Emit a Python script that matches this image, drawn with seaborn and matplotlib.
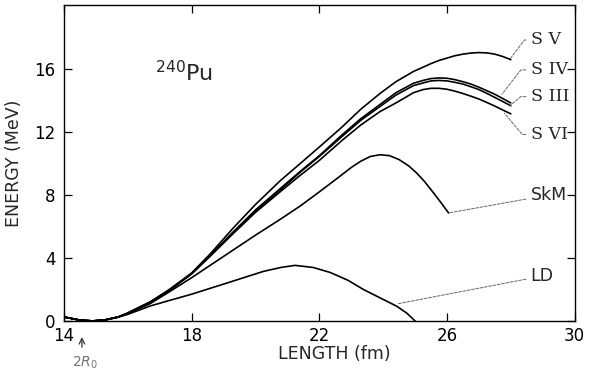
import numpy as np
import pandas as pd
import matplotlib
matplotlib.use('Agg')
import matplotlib.pyplot as plt
import seaborn as sns

# values (length in fm, energy in MeV)
L_s = [14.0, 14.5, 14.9, 15.3, 15.7, 16.0, 16.7, 17.3, 18.0, 18.6, 19.3, 20.0, 20.77,
       21.4, 22.0, 22.7, 23.3, 23.9, 24.4, 24.95, 25.25, 25.5, 25.75, 26.0, 26.25,
       26.5, 26.75, 27.0, 27.25, 27.5, 27.75, 28.0]
E_sv = [0.25, 0.05, 0.0, 0.07, 0.25, 0.5, 1.2, 2.0, 3.05, 4.3, 5.9, 7.4, 8.9,
        10.0, 11.05, 12.3, 13.45, 14.45, 15.2, 15.85, 16.12, 16.35, 16.55, 16.7, 16.85,
        16.95, 17.02, 17.05, 17.03, 16.95, 16.8, 16.6]
E_siv = [0.25, 0.05, 0.0, 0.07, 0.25, 0.5, 1.2, 1.95, 3.0, 4.2, 5.65, 7.05, 8.4,
         9.5, 10.5, 11.8, 12.85, 13.75, 14.5, 15.1, 15.28, 15.4, 15.44, 15.42, 15.33,
         15.2, 15.05, 14.85, 14.63, 14.4, 14.13, 13.85]
E_siii = [0.25, 0.05, 0.0, 0.07, 0.25, 0.5, 1.2, 1.95, 3.0, 4.2, 5.62, 7.0, 8.3,
          9.45, 10.45, 11.7, 12.75, 13.62, 14.35, 14.95, 15.12, 15.25, 15.28, 15.25, 15.16,
          15.05, 14.88, 14.7, 14.46, 14.2, 13.94, 13.67]
E_svi = [0.25, 0.05, 0.0, 0.07, 0.25, 0.5, 1.2, 1.95, 3.0, 4.15, 5.55, 6.9, 8.2,
         9.25, 10.2, 11.45, 12.45, 13.3, 13.85, 14.5, 14.7, 14.78, 14.78, 14.72, 14.6,
         14.45, 14.28, 14.1, 13.88, 13.65, 13.4, 13.16]

L_skm = [14.0, 14.5, 14.9, 15.3, 15.7, 16.0, 16.7, 17.3, 18.0, 19.0, 20.0, 20.77, 21.4,
         22.0, 22.65, 23.0, 23.3, 23.6, 23.9, 24.2, 24.5, 24.8, 25.05, 25.3, 25.58,
         25.8, 26.05]
E_skm = [0.25, 0.05, 0.0, 0.07, 0.25, 0.48, 1.1, 1.85, 2.75, 4.1, 5.45, 6.45, 7.3,
         8.2, 9.2, 9.75, 10.15, 10.45, 10.56, 10.5, 10.25, 9.85, 9.4, 8.85, 8.13,
         7.55, 6.86]

L_ld = [14.0, 14.5, 14.9, 15.3, 15.7, 16.0, 16.7, 17.3, 18.0, 19.2, 20.25, 20.8, 21.24,
        21.8, 22.34, 22.9, 23.38, 23.9, 24.43, 24.75, 25.0]
E_ld = [0.25, 0.05, 0.0, 0.07, 0.25, 0.42, 0.95, 1.3, 1.7, 2.47, 3.15, 3.4, 3.53,
        3.4, 3.08, 2.58, 2.0, 1.47, 0.93, 0.48, 0.0]

x_ticks = [14, 18, 22, 26, 30]
y_ticks = [0, 4, 8, 12, 16]

curves = pd.concat([
    pd.DataFrame({'L': L_s, 'E': E_sv, 'force': 'S V'}),
    pd.DataFrame({'L': L_s, 'E': E_siv, 'force': 'S IV'}),
    pd.DataFrame({'L': L_s, 'E': E_siii, 'force': 'S III'}),
    pd.DataFrame({'L': L_s, 'E': E_svi, 'force': 'S VI'}),
    pd.DataFrame({'L': L_skm, 'E': E_skm, 'force': 'SkM'}),
    pd.DataFrame({'L': L_ld, 'E': E_ld, 'force': 'LD'}),
])

sns.set_style('ticks')
plt.rcParams['font.family'] = ['DejaVu Sans']

fig = plt.figure(figsize=(5.93, 3.72), dpi=100)
ax = fig.add_axes([0.108, 0.136, 0.861, 0.850])

names = ['S V', 'S IV', 'S III', 'S VI', 'SkM', 'LD']
sns.lineplot(data=curves, x='L', y='E', hue='force', hue_order=names,
             palette=['black'] * 6, estimator=None, sort=False,
             linewidth=1.2, legend=False, ax=ax)

ax.set_xlim(14, 30)
ax.set_ylim(-0.03, 20.06)
ax.set_xticks(x_ticks)
ax.set_yticks(y_ticks)
ax.tick_params(direction='in', top=True, right=True, length=6, width=0.9,
               labelsize=12, colors='black', pad=6)
ax.tick_params(axis='x', labeltop=False, pad=4)
for s in ax.spines.values():
    s.set_linewidth(1.0)
    s.set_color('black')

ax.set_xlabel('LENGTH (fm)', fontsize=12.5)
ax.xaxis.set_label_coords(0.53, -0.075)
ax.set_ylabel('ENERGY (MeV)', fontsize=12.5, labelpad=8)

ax.text(16.85, 15.75, r'$^{240}$Pu', fontsize=16, va='center', ha='left')

# leader lines and labels
lead = dict(arrowstyle='-', color='0.4', lw=0.7, linestyle=(0, (3, 1.5)),
            shrinkA=1, shrinkB=0)
tx = 28.62
ax.annotate('S V', xy=(27.96, 16.6), xytext=(tx, 17.85), fontsize=12.5,
            family='DejaVu Serif', va='center', ha='left', annotation_clip=False,
            arrowprops=dict(connectionstyle='angle,angleA=0,angleB=53,rad=0', **lead))
ax.annotate('S IV', xy=(27.72, 14.4), xytext=(tx, 15.95), fontsize=12.5,
            family='DejaVu Serif', va='center', ha='left', annotation_clip=False,
            arrowprops=dict(connectionstyle='angle,angleA=0,angleB=52,rad=0', **lead))
ax.annotate('S III', xy=(27.97, 13.67), xytext=(tx, 14.25), fontsize=12.5,
            family='DejaVu Serif', va='center', ha='left', annotation_clip=False,
            arrowprops=dict(connectionstyle='angle,angleA=0,angleB=40,rad=0', **lead))
ax.annotate('S VI', xy=(27.8, 13.2), xytext=(tx, 11.85), fontsize=12.5,
            family='DejaVu Serif', va='center', ha='left', annotation_clip=False,
            arrowprops=dict(connectionstyle='angle,angleA=0,angleB=-50,rad=0', **lead))
ax.annotate('SkM', xy=(26.05, 6.86), xytext=(tx, 8.0), fontsize=12.5,
            va='center', ha='left', annotation_clip=False, arrowprops=lead)
ax.annotate('LD', xy=(24.48, 1.1), xytext=(tx, 2.85), fontsize=12.5,
            va='center', ha='left', annotation_clip=False, arrowprops=lead)

# 2R0 marker below the axis
ax.annotate('', xy=(14.56, -0.85), xytext=(14.56, -1.85), annotation_clip=False,
            arrowprops=dict(arrowstyle='->', color='0.2', lw=0.9))
ax.text(14.65, -2.65, r'$2R_0$', fontsize=10, color='0.45', ha='center', va='center')

fig.savefig('out.png', dpi=100)
